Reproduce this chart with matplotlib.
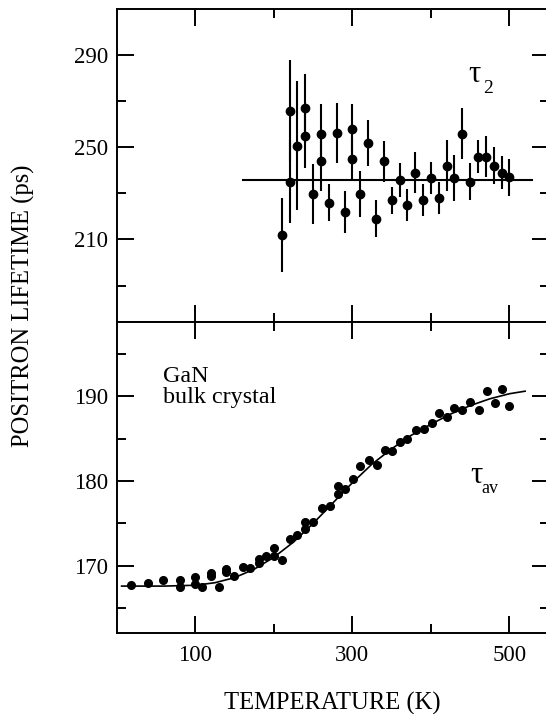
import matplotlib.pyplot as plt
from matplotlib.ticker import MultipleLocator

plt.rcParams['font.family'] = ['Liberation Serif', 'DejaVu Serif']

# tau_2 (defect component), temperature in K, lifetime in ps
tau2_T = [210, 220, 220, 230, 240, 240, 250, 260, 260, 270, 280, 290, 300, 300,
          310, 320, 330, 340, 350, 360, 370, 380, 390, 400, 410, 420, 430, 440,
          450, 460, 470, 480, 490, 500]
tau2_val = [212.0, 265.9, 235.1, 250.7, 266.9, 254.9, 229.7, 255.8, 243.8, 226.0,
            256.3, 221.8, 257.9, 244.8, 229.7, 252.0, 218.9, 243.8, 226.9, 235.8,
            225.0, 239.0, 227.1, 236.5, 227.9, 241.9, 236.5, 255.8, 235.1, 245.9,
            245.9, 241.9, 239.0, 237.0]
tau2_err = [16, 22, 18, 28, 15, 14, 13, 13, 13, 8, 13, 9, 11, 9, 10, 10, 8, 9, 6,
            7.5, 7, 9, 7, 7, 7, 11, 10, 11, 8, 7, 9, 8, 7, 8]
tau2_mean = 235.8
tau2_range = [160, 529]

# average lifetime
tav_T = [18, 39, 59, 80, 80, 100, 100, 109, 120, 120, 130, 139, 139, 149, 160,
         170, 181, 181, 190, 200, 200, 210, 220, 230, 240, 240, 250, 261, 271,
         281, 281, 291, 301, 310, 321, 331, 341, 351, 360, 370, 381, 391, 401,
         410, 420, 430, 440, 450, 461, 471, 481, 490, 500]
tav_val = [167.7, 168.0, 168.3, 168.3, 167.5, 168.7, 167.8, 167.5, 169.1, 168.8,
           167.5, 169.6, 169.3, 168.8, 169.9, 169.7, 170.75, 170.35, 171.1, 172.1,
           171.2, 170.7, 173.1, 173.6, 175.2, 174.3, 175.2, 176.8, 177.0, 179.4,
           178.5, 179.1, 180.2, 181.8, 182.5, 181.9, 183.7, 183.6, 184.6, 185.0,
           186.0, 186.1, 186.9, 188.0, 187.6, 188.6, 188.4, 189.3, 188.4, 190.6,
           189.2, 190.8, 188.9]

# fitted curve through tau_av
fit_T = [6, 60, 100, 125, 150, 175, 200, 225, 250, 275, 300, 325, 350, 375,
         400, 425, 450, 475, 500, 520]
fit_val = [167.6, 167.6, 167.7, 168.0, 168.6, 169.6, 171.0, 172.8, 175.0, 177.4,
           179.8, 182.0, 183.8, 185.4, 186.7, 187.9, 188.9, 189.7, 190.3, 190.6]

W, H = 546, 714
fig = plt.figure(figsize=(W / 100, H / 100), dpi=100)


def px(x, y):
    # pixel position measured from the top-left corner -> figure fraction
    return x / W, 1 - y / H


left, right = 116.9 / W, 548.7 / W
y_top, y_mid, y_bot = 1 - 9.3 / H, 1 - 321.7 / H, 1 - 632.7 / H
ax1 = fig.add_axes([left, y_mid, right - left, y_top - y_mid])
ax2 = fig.add_axes([left, y_bot, right - left, y_mid - y_bot])

for ax in (ax1, ax2):
    ax.set_xlim(0, 550)
    ax.set_xticks([100, 300, 500])
    ax.set_xticks([200, 400], minor=True)
    ax.tick_params(which='both', direction='in', top=True, right=True, width=1.4,
                   labelsize=16.5)
    ax.tick_params(which='major', length=12.2)
    ax.tick_params(which='minor', length=6.5)
    ax.tick_params(axis='y', pad=6.2)
    ax.tick_params(axis='x', pad=8.9)
    for s in ax.spines.values():
        s.set_linewidth(1.4)

# upper panel: tau_2
ax1.errorbar(tau2_T, tau2_val, yerr=tau2_err, fmt='o', color='black', ms=6,
             elinewidth=1.5, capsize=0)
ax1.plot(tau2_range, [tau2_mean, tau2_mean], color='black', lw=1.5)
ax1.set_ylim(174.3, 309.8)
ax1.set_yticks([210, 250, 290])
ax1.set_yticks([190, 230, 270], minor=True)
ax1.tick_params(labelbottom=False)

# lower panel: tau_av
ax2.plot(tav_T, tav_val, 'o', color='black', ms=5.5)
ax2.plot(fit_T, fit_val, color='black', lw=1.2)
ax2.set_ylim(162.1, 198.8)
ax2.set_yticks([170, 180, 190])
ax2.set_yticks([165, 175, 185, 195], minor=True)

# panel labels
fig.text(*px(468, 82), 'τ', fontsize=22, va='baseline')
fig.text(*px(483, 93), '2', fontsize=14, va='baseline')
fig.text(*px(470, 483), 'τ', fontsize=22, va='baseline')
fig.text(*px(481.5, 493), 'av', fontsize=13, va='baseline')

fig.text(*px(163, 381.7), 'GaN', fontsize=17.4, va='baseline')
fig.text(*px(163, 403.3), 'bulk crystal', fontsize=17.4, va='baseline')

fig.text(*px(23, 306), 'POSITRON LIFETIME (ps)', rotation=90,
         ha='center', va='center', fontsize=17.7)
fig.text(*px(332.8, 703), 'TEMPERATURE (K)', ha='center', va='center',
         fontsize=17.7)

fig.savefig('out.png', dpi=100)
